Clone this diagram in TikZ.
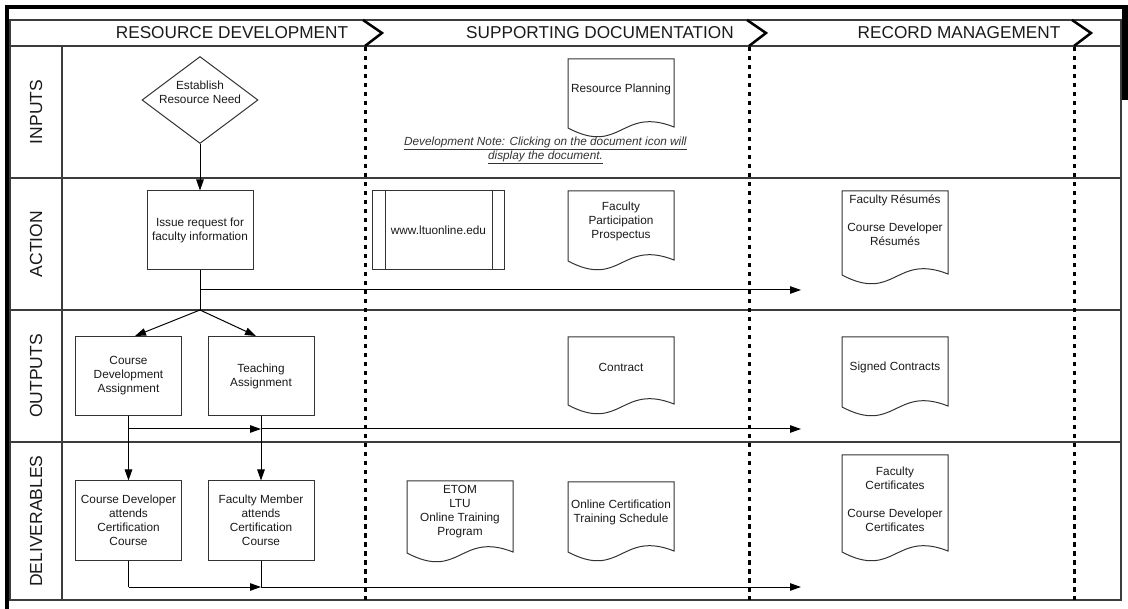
\documentclass[tikz,border=0pt]{standalone}
\usepackage{fontspec}
\setmainfont{Liberation Sans}
\usetikzlibrary{arrows.meta,shapes.geometric}
\definecolor{lanegray}{HTML}{3C3C3C}
\definecolor{boxgray}{HTML}{333333}
\definecolor{txtcol}{HTML}{1A1A1A}
\newcommand\boxfont{\fontsize{11.8}{14}\selectfont}
\newcommand\hdrfont{\fontsize{17.2}{20}\selectfont}
\newcommand\lanefont{\fontsize{17.5}{20}\selectfont}
\newcommand\mydoc[3]{% #1 x0, #2 ytop, #3 yb
  \draw[boxline, fill=white] (#1,#2) -- (#1,#3) .. controls ({#1+53},{#3+28}) and ({#1+53},{#3-22}) .. ({#1+106},{#3-1}) -- ({#1+106},#2) -- cycle;}
\begin{document}
\begin{tikzpicture}[x=1pt,y=-1pt,
  lane/.style={draw=lanegray, line width=1.8pt},
  boxline/.style={draw=boxgray, line width=1pt},
  procbox/.style={boxline, fill=white, rectangle, minimum width=106pt, minimum height=79pt, inner sep=0pt, align=center, font=\boxfont, text=txtcol},
  txt/.style={align=center, font=\boxfont, text=txtcol, inner sep=0pt},
  conn/.style={draw=black, line width=1pt},
  arr/.style={conn, -{Triangle[length=11pt,width=7.5pt]}},
  dotline/.style={draw=black, line width=3pt, dash pattern=on 4.5pt off 4.5pt},
  chev/.style={draw=black, line width=2.5pt, line join=miter},
  hdr/.style={font=\hdrfont, text=txtcol, inner sep=0pt},
  lanelbl/.style={font=\lanefont, text=txtcol, rotate=90, inner sep=0pt}]
\useasboundingbox (0,0) rectangle (1128,609);
% outer thick bars
\fill[black] (5,5) rectangle (1128,9);
\fill[black] (5,5) rectangle (9,609);
\fill[black] (1122,5) rectangle (1128,100);
% table frame and lanes
\draw[lane] (10,20) rectangle (1121,600);
\draw[lane] (10,46) -- (1121,46);
\draw[lane] (10,178) -- (1121,178);
\draw[lane] (10,310) -- (1121,310);
\draw[lane] (10,442) -- (1121,442);
\draw[lane] (62,46) -- (62,600);
% dotted phase separators
\draw[dotline] (365,47) -- (365,600);
\draw[dotline] (749,47) -- (749,600);
\draw[dotline] (1074,47) -- (1074,600);
% chevrons
\draw[chev] (363,20) -- (382,33) -- (365,46);
\draw[chev] (747,20) -- (766,33) -- (749,46);
\draw[chev] (1072,20) -- (1091,33) -- (1074,46);
% headers
\node[hdr] (hrd) at (232,33) {RESOURCE DEVELOPMENT};
\node[hdr] (hsd) at (600,33) {SUPPORTING DOCUMENTATION};
\node[hdr] (hrm) at (959,33) {RECORD MANAGEMENT};
% lane labels
\node[lanelbl] (lin) at (36,112) {INPUTS};
\node[lanelbl] (lac) at (36,244) {ACTION};
\node[lanelbl] (lou) at (36,376) {OUTPUTS};
\node[lanelbl] (lde) at (36,521) {DELIVERABLES};
% process nodes
\node[boxline, fill=white, diamond, minimum width=116pt, minimum height=87pt, inner sep=0pt] (need) at (200,100) {};
\node[txt] (needt) at (200,92) {Establish\\Resource Need};
\node[procbox] (issue) at (200,230.5) {Issue request for\\faculty information};
\node[procbox] (cd) at (128.5,376) {Course\\Development\\Assignment};
\node[procbox] (ta) at (261,376) {Teaching\\Assignment};
\node[procbox] (cda) at (128.5,520.5) {Course Developer\\attends\\Certification\\Course};
\node[procbox] (fma) at (261,520.5) {Faculty Member\\attends\\Certification\\Course};
\node[procbox, minimum width=132pt] (www) at (438.5,230.5) {www.ltuonline.edu};
\draw[boxline] ([xshift=13pt]www.north west) -- ([xshift=13pt]www.south west);
\draw[boxline] ([xshift=-13pt]www.north east) -- ([xshift=-13pt]www.south east);
% documents
\mydoc{568}{59}{128}
\node[txt] (rp) at (621,89) {Resource Planning};
\mydoc{568}{191}{261}
\node[txt] (fpp) at (621,221) {Faculty\\Participation\\Prospectus};
\mydoc{568}{337}{405}
\node[txt] (con) at (621,367) {Contract};
\mydoc{568}{482}{552}
\node[txt] (octs) at (621,512) {Online Certification\\Training Schedule};
\mydoc{407}{481}{553}
\node[txt] (etom) at (460,512) {ETOM\\LTU\\Online Training\\Program};
\mydoc{842}{191}{275}
\node[txt] (fr) at (895,220) {Faculty Résumés\\[14pt]Course Developer\\Résumés};
\mydoc{842}{337}{407}
\node[txt] (sc) at (895,367) {Signed Contracts};
\mydoc{842}{455}{552}
\node[txt] (fc) at (895,499) {Faculty\\Certificates\\[14pt]Course Developer\\Certificates};
% note
\node[txt, text=boxgray] (note) at (545.5,150) {\underline{\textit{Development Note: Clicking on the document icon will}}\\\underline{\textit{display the document.}}};
% connectors
\coordinate (j1) at (200,310);
\coordinate (s1) at (200,290);
\coordinate (a1) at (801,290);
\coordinate (h1) at (128.5,429);
\coordinate (h2) at (261,429);
\coordinate (h3) at (801,429);
\coordinate (b1) at (128.5,587);
\coordinate (b2) at (261,587);
\coordinate (b3) at (801,587);
\draw[arr] (need.south) -- (issue.north);
\draw[conn] (issue.south) -- (j1);
\draw[arr] (s1) -- (a1);
\draw[arr] (j1) -- ([xshift=6.5pt]cd.north);
\draw[arr] (j1) -- ([xshift=-5pt]ta.north);
\draw[arr] (cd.south) -- (cda.north);
\draw[arr] (ta.south) -- (fma.north);
\draw[arr] (h1) -- (h2);
\draw[arr] (h2) -- (h3);
\draw[conn] (cda.south) -- (b1);
\draw[conn] (fma.south) -- (b2);
\draw[arr] (b1) -- (b2);
\draw[arr] (b2) -- (b3);
\end{tikzpicture}
\end{document}
